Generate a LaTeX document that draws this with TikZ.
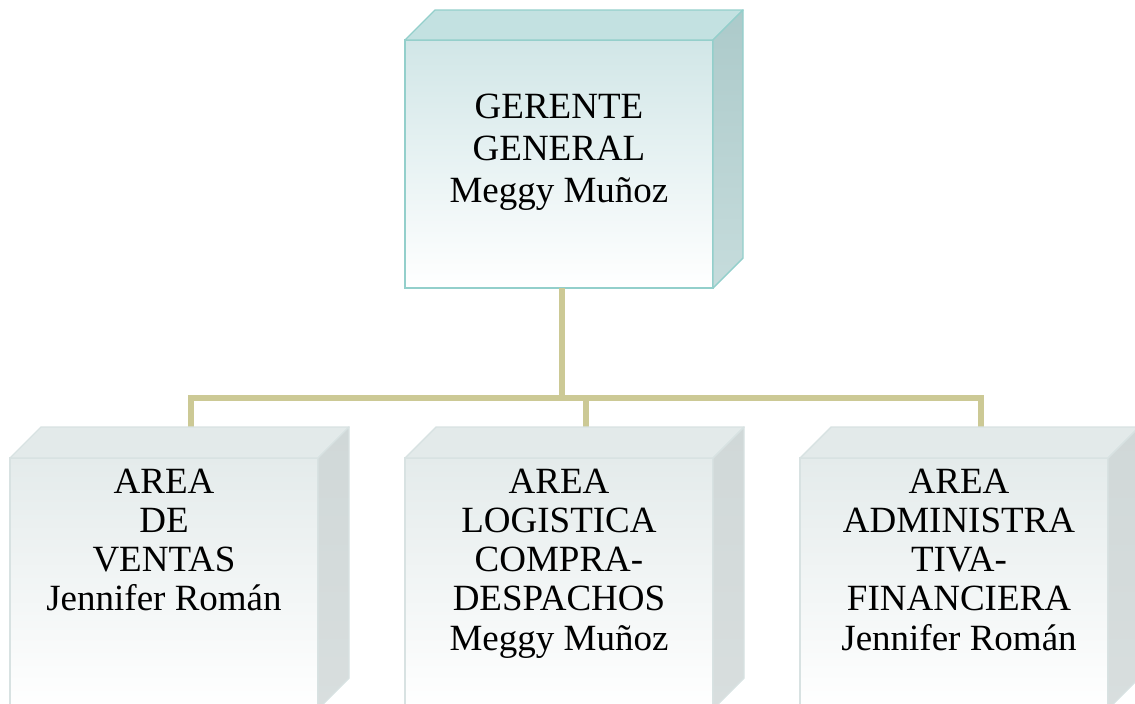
\documentclass[tikz,border=0pt]{standalone}
\usepackage{fontspec}
\setmainfont{Liberation Serif}
\usetikzlibrary{calc}

\definecolor{tealedge}{HTML}{93CFCB}
\definecolor{tealfront}{HTML}{D1E6E7}
\definecolor{tealtop}{HTML}{C3E1E1}
\definecolor{tealsideA}{HTML}{ACCACA}
\definecolor{tealsideB}{HTML}{C6DCDC}
\definecolor{greyedge}{HTML}{D8E2E2}
\definecolor{greyfront}{HTML}{E4EBEB}
\definecolor{greytop}{HTML}{E3EAEA}
\definecolor{greysideA}{HTML}{D0D8D8}
\definecolor{greysideB}{HTML}{D8DEDE}
\definecolor{linkcol}{HTML}{CCC995}

% front face of a box; the top and right faces are added by \boxfaces
\tikzset{
  frontface/.style={rectangle, inner sep=0pt, outer sep=0pt, line width=1.4pt,
    minimum width=308pt},
  headbox/.style={frontface, draw=tealedge, top color=tealfront, bottom color=white,
    minimum height=248pt},
  unitbox/.style={frontface, draw=greyedge, top color=greyfront, bottom color=white,
    minimum height=251pt},
  conn/.style={draw=linkcol, line width=6pt, line join=miter},
  headtext/.style={anchor=north, inner sep=0pt, align=center,
    font=\fontsize{37}{42}\selectfont},
  unittext/.style={anchor=north, inner sep=0pt, align=center,
    font=\fontsize{37}{39.2}\selectfont},
}

% #1 node, #2 depth, #3 top fill, #4/#5 side shading, #6 edge colour
\newcommand\boxfaces[6]{%
  \path[fill=#3, draw=#6, line width=1.4pt, line join=round]
    (#1.north west) -- ++(#2,-#2) -- ($(#1.north east)+(#2,-#2)$)
    -- (#1.north east) -- cycle;
  \shadedraw[top color=#4, bottom color=#5, draw=#6, line width=1.4pt, line join=round]
    (#1.north east) -- ++(#2,-#2) -- ($(#1.south east)+(#2,-#2)$)
    -- (#1.south east) -- cycle;
}

\begin{document}
\begin{tikzpicture}[x=1pt,y=-1pt]
\useasboundingbox (0,0) rectangle (1135,704);
\clip (0,0) rectangle (1135,704);

% junction of the connectors and the points where they meet the lower boxes
\coordinate (j) at (562,398);
\coordinate (p1) at ($(164,458)+(27,-31)$);
\coordinate (p2) at ($(559,458)+(27,-31)$);
\coordinate (p3) at ($(954,458)+(27,-31)$);

% head box
\node[headbox] (gg) at (559,164) {};
\boxfaces{gg}{30}{tealtop}{tealsideA}{tealsideB}{tealedge}

% lower boxes (front faces)
\node[unitbox] (b1) at (164,583.5) {};
\node[unitbox] (b2) at (559,583.5) {};
\node[unitbox] (b3) at (954,583.5) {};

% connectors, drawn before the top faces so these cover their ends
\draw[conn] (gg.south -| j) -- (j);
\draw[conn] (p1) |- (j) -| (p3);
\draw[conn] (p2) -- (p2 |- j);

\boxfaces{b1}{31}{greytop}{greysideA}{greysideB}{greyedge}
\boxfaces{b2}{31}{greytop}{greysideA}{greysideB}{greyedge}
\boxfaces{b3}{31}{greytop}{greysideA}{greysideB}{greyedge}

% labels
\node[headtext] (tg) at (559,93.6) {GERENTE\\GENERAL\\Meggy Muñoz};
\node[unittext] (t1) at (164,468.6) {AREA\\DE\\VENTAS\\Jennifer Román};
\node[unittext] (t2) at (559,468.6) {AREA\\LOGISTICA\\COMPRA-\\DESPACHOS\\Meggy Muñoz};
\node[unittext] (t3) at (959,468.6) {AREA\\ADMINISTRA\\TIVA-\\FINANCIERA\\Jennifer Román};
\end{tikzpicture}
\end{document}
